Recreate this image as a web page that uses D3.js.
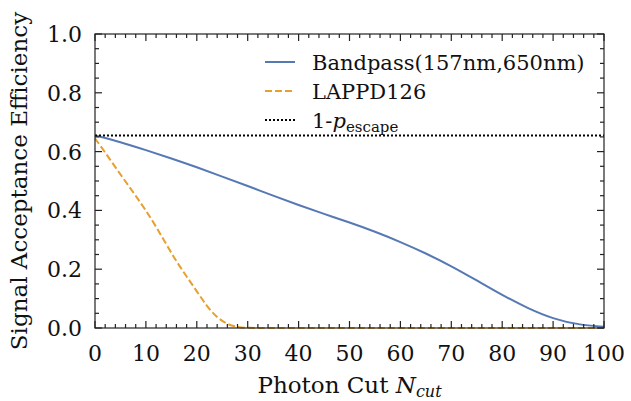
<!DOCTYPE html>
<html>
<head>
<meta charset="utf-8">
<script src="https://cdn.jsdelivr.net/npm/d3@7"></script>
<style>
  html, body { margin: 0; padding: 0; background: #fff; }
  svg text { font-family: 'DejaVu Serif', serif; fill: #111; }
</style>
</head>
<body>
<div id="chart"></div>
<script>
// Photon cut values (x) and efficiencies
const bandpassX = [0, 5, 10, 15, 20, 25, 30, 35, 40, 45, 50, 55, 60, 65, 70, 75, 80, 85, 90, 95, 100];
const bandpassY = [0.655, 0.633, 0.605, 0.577, 0.547, 0.515, 0.483, 0.450, 0.418, 0.388, 0.359, 0.328, 0.293, 0.254, 0.211, 0.162, 0.112, 0.067, 0.031, 0.011, 0.004];
const lappdX = [0, 2, 4, 6, 8, 10, 12, 14, 16, 18, 20, 22, 24, 26, 28, 30, 35, 40, 50, 60, 70, 80, 90, 100];
const lappdY = [0.645, 0.597, 0.547, 0.498, 0.450, 0.400, 0.345, 0.285, 0.226, 0.175, 0.125, 0.073, 0.035, 0.012, 0.003, 0.0, 0, 0, 0, 0, 0, 0, 0, 0];
const pEscape = 0.655; // 1 - p_escape
const xTicks = [0, 10, 20, 30, 40, 50, 60, 70, 80, 90, 100];
const yTicks = [0.0, 0.2, 0.4, 0.6, 0.8, 1.0];
const legendLabels = ['Bandpass(157nm,650nm)', 'LAPPD126'];

const W = 631, H = 401;
const m = { left: 95, right: 27, top: 34, bottom: 73 };
const iw = W - m.left - m.right, ih = H - m.top - m.bottom;
const BLUE = '#5679b5', ORANGE = '#e5a02e';

const svg = d3.select('#chart').append('svg').attr('width', W).attr('height', H);
const g = svg.append('g').attr('transform', `translate(${m.left},${m.top})`);

const x = d3.scaleLinear().domain([0, 100]).range([0, iw]);
const y = d3.scaleLinear().domain([0, 1]).range([ih, 0]);

const line = d3.line().x(d => x(d[0])).y(d => y(d[1])).curve(d3.curveBasis);

g.append('path').datum(d3.zip(bandpassX, bandpassY)).attr('d', line)
  .attr('fill', 'none').attr('stroke', BLUE).attr('stroke-width', 2);
g.append('path').datum(d3.zip(lappdX, lappdY)).attr('d', line)
  .attr('fill', 'none').attr('stroke', ORANGE).attr('stroke-width', 2).attr('stroke-dasharray', '7,3');
g.append('line').attr('x1', 0).attr('x2', iw).attr('y1', y(pEscape)).attr('y2', y(pEscape))
  .attr('stroke', '#000').attr('stroke-width', 2).attr('stroke-dasharray', '2,2');

// Frame and inward ticks on all sides
const tickCol = '#222';
g.append('rect').attr('width', iw).attr('height', ih).attr('fill', 'none').attr('stroke', tickCol).attr('stroke-width', 1.2);

const xMinor = d3.range(0, 101, 2).filter(v => v % 10 !== 0);
const yMinor = d3.range(0, 21).map(i => i * 0.05).filter((v, i) => i % 4 !== 0);

function ticks(vals, len, scale, horiz) {
  vals.forEach(v => {
    if (horiz) {
      const px = scale(v);
      g.append('line').attr('x1', px).attr('x2', px).attr('y1', ih).attr('y2', ih - len).attr('stroke', tickCol).attr('stroke-width', 1.2);
      g.append('line').attr('x1', px).attr('x2', px).attr('y1', 0).attr('y2', len).attr('stroke', tickCol).attr('stroke-width', 1.2);
    } else {
      const py = scale(v);
      g.append('line').attr('x1', 0).attr('x2', len).attr('y1', py).attr('y2', py).attr('stroke', tickCol).attr('stroke-width', 1.2);
      g.append('line').attr('x1', iw).attr('x2', iw - len).attr('y1', py).attr('y2', py).attr('stroke', tickCol).attr('stroke-width', 1.2);
    }
  });
}
ticks(xTicks, 7, x, true);
ticks(xMinor, 4, x, true);
ticks(yTicks, 7, y, false);
ticks(yMinor, 4, y, false);

const fs = 22;
g.selectAll('.xt').data(xTicks).enter().append('text')
  .attr('x', d => x(d)).attr('y', ih + 33).attr('text-anchor', 'middle')
  .attr('font-size', fs).text(d => d);
g.selectAll('.yt').data(yTicks).enter().append('text')
  .attr('x', -13).attr('y', d => y(d) + 8).attr('text-anchor', 'end')
  .attr('font-size', fs).text(d => d.toFixed(1));

// Axis labels
const xl = svg.append('text').attr('x', m.left + iw / 2).attr('y', 393).attr('text-anchor', 'middle').attr('font-size', 23);
xl.append('tspan').text('Photon Cut ');
xl.append('tspan').attr('font-style', 'italic').text('N');
xl.append('tspan').attr('font-style', 'italic').attr('font-size', 16).attr('dy', 4).text('cut');

svg.append('text').attr('transform', `translate(27,${m.top + ih / 2}) rotate(-90)`)
  .attr('text-anchor', 'middle').attr('font-size', 23).text('Signal Acceptance Efficiency');

// Legend
const lg = svg.append('g').attr('transform', 'translate(265,62)');
const rows = [
  { label: legendLabels[0], color: BLUE, dash: null },
  { label: legendLabels[1], color: ORANGE, dash: '7,3' },
  { label: null, color: '#000', dash: '2,2' }
];
rows.forEach((r, i) => {
  const yy = i * 29;
  lg.append('line').attr('x1', 0).attr('x2', 30).attr('y1', yy).attr('y2', yy)
    .attr('stroke', r.color).attr('stroke-width', 2).attr('stroke-dasharray', r.dash);
  const t = lg.append('text').attr('x', 47).attr('y', yy + 7.5).attr('font-size', 21);
  if (r.label) t.text(r.label);
  else {
    t.append('tspan').text('1-');
    t.append('tspan').attr('font-style', 'italic').text('p');
    t.append('tspan').attr('font-size', 15).attr('dy', 4).text('escape');
  }
});
</script>
</body>
</html>
